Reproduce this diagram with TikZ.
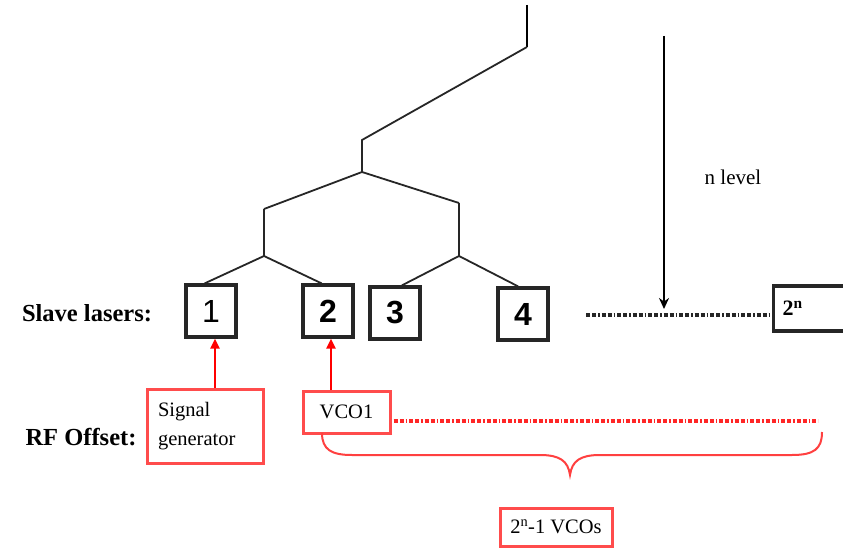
\documentclass[tikz,border=0pt]{standalone}
\usepackage{fontspec}
\setmainfont{Liberation Serif}
\newfontfamily\digitfont{Liberation Sans}
\usetikzlibrary{calc,arrows.meta}
\begin{document}
\begin{tikzpicture}[x=1pt,y=-1pt,
  tree/.style={line width=1.8pt, draw=black!85},
  laser/.style={draw=black!85, line width=3.2pt, minimum width=50pt, minimum height=52pt,
    inner sep=0pt, font=\digitfont\fontsize{32}{32}\selectfont},
  laserbold/.style={laser, font=\digitfont\bfseries\fontsize{32}{32}\selectfont},
  rowlabel/.style={font=\bfseries\fontsize{24.5}{26}\selectfont, inner sep=0pt},
  plain/.style={font=\fontsize{21}{21}\selectfont, inner sep=0pt},
  rfbox/.style={draw=red!70, line width=3pt, inner sep=0pt, font=\fontsize{20.5}{29}\selectfont},
  rfarrow/.style={draw=red, line width=2.2pt, -{Triangle[length=10pt,width=9pt]}},
  dotline/.style={line width=3.2pt, dash pattern=on 4pt off 2pt on 4pt off 2pt on 1.5pt off 2pt}
]
\clip (0,0) rectangle (843,548);
\fill[white] (0,0) rectangle (843,548);

% slave lasers
\node[laser]     (b1) at (211,311) {1};
\node[laserbold] (b2) at (328,311) {2};
\node[laserbold] (b3) at (395,313) {3};
\node[laserbold] (b4) at (523,314) {4};
\node[draw=black!85, line width=3.2pt, minimum width=80pt, minimum height=45pt,
  anchor=west, inner xsep=8pt, text width=62pt, align=left,
  font=\bfseries\fontsize{22}{22}\selectfont] (bn) at (772,308.5) {2\textsuperscript{n}};

\node[rowlabel] (sl) at (87,313) {Slave lasers:};
\node[rowlabel] (rf) at (81,437) {RF Offset:};

% splitting tree
\coordinate (top) at (527,5);
\coordinate (k0) at (527,47);
\coordinate (k1) at (362,140);
\coordinate (s0) at (362,172);
\coordinate (l0) at (264,209);
\coordinate (l1) at (264,256);
\coordinate (r0) at (459,203);
\coordinate (r1) at (459,256);
\draw[line width=2.8pt] (top) -- (k0);
\draw[tree] (k0) -- (k1) -- (s0);
\draw[tree] (l0) -- (s0) -- (r0);
\draw[tree] (l0) -- (l1);
\draw[tree] (r0) -- (r1);
\draw[tree] (b1.103) -- (l1) -- (b2.103);
\draw[tree] (b3.76) -- (r1) -- (b4.100);

% level arrow
\coordinate (nt) at (664,36);
\coordinate (nb) at (664,309);
\draw[line width=2.8pt, -{Stealth[length=11pt,width=10pt]}] (nt) -- (nb);
\node[plain] (nl) at (733,177) {n level};

% continuation of the laser row
\coordinate (d0) at (586,315);
\draw[dotline, black!85] (d0) -- (d0 -| bn.west);

% RF offsets
\node[rfbox, minimum width=116pt, minimum height=74pt, text width=94pt,
  inner xsep=11pt, align=left] (sg) at (205,426) {Signal\\generator};
\node[rfbox, minimum width=87pt, minimum height=42pt] (vco) at (346.5,412) {VCO1};
\node[rfbox, minimum width=112pt, minimum height=38pt] (tot) at (556,527)
  {2\textsuperscript{n}-1 VCOs};

\coordinate (sgt) at ($(sg.north)+(10,0)$);
\draw[rfarrow] (sgt) -- (sgt |- b1.south);
\coordinate (vt) at ($(vco.north)+(-15.5,0)$);
\draw[rfarrow] (vt) -- (vt |- b2.south);

\coordinate (v0) at ($(vco.east)+(2,9)$);
\coordinate (v1) at (818,421);
\draw[dotline, red!85] (v0) -- (v1);

% brace over the VCO row
\draw[red!75, line width=2pt]
  (322,433) .. controls (322,450) and (332,455) .. (352,455)
  -- (540,455) .. controls (560,455) and (568,461) .. (570,475)
  .. controls (572,461) and (580,455) .. (600,455)
  -- (792,455) .. controls (814,455) and (822,449) .. (822,432);
\end{tikzpicture}
\end{document}
